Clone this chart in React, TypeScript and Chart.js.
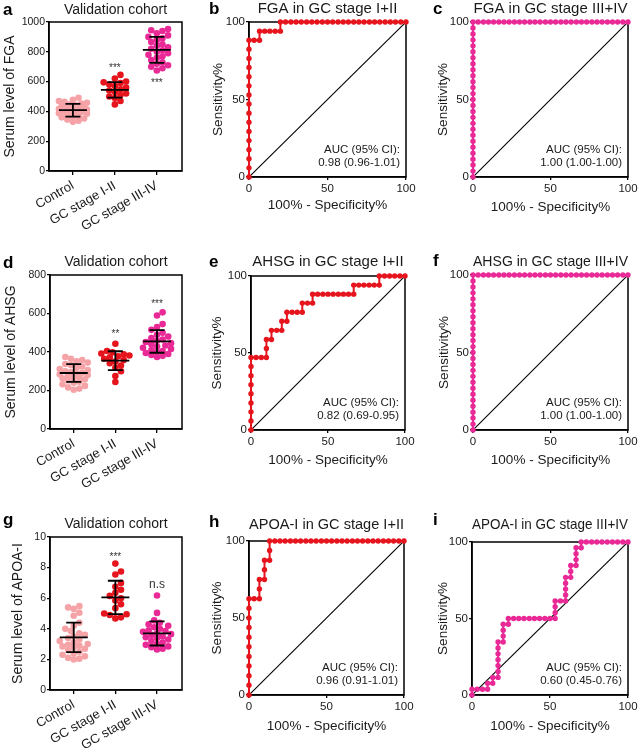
import React, { useEffect, useRef } from "react";
import { Chart, registerables } from "chart.js";

Chart.register(...registerables);

const FONT = "'Liberation Sans', Arial, Helvetica, sans-serif";
const TEXT = "#1a1a1a";
Chart.defaults.font.family = FONT;
Chart.defaults.color = TEXT;

// ---------------- Dot plot data ----------------
const GROUPS = ["Control", "GC stage I-II", "GC stage III-IV"];
const GROUP_COLORS = ["#F5A3A7", "#E5141D", "#E92A96"];

const FGA_CONTROL = [492, 478, 470, 465, 458, 452, 447, 442, 438, 433, 428, 424, 420, 416, 412, 408, 404, 400, 396, 392, 388, 384, 378, 372, 366, 360, 352, 345, 338, 330];
const FGA_STAGE12 = [645, 620, 600, 595, 590, 580, 570, 560, 548, 540, 530, 520, 510, 500, 490, 470, 447];
const FGA_STAGE34 = [953, 945, 940, 925, 910, 900, 890, 880, 865, 850, 840, 830, 820, 810, 800, 790, 780, 770, 760, 745, 730, 720, 710, 700, 690, 674];
const FGA_MEAN = [408, 544, 813];
const FGA_SD = [43, 52, 87];
const FGA_SIG = ["", "***", "***"];

const AHSG_CONTROL = [374, 365, 358, 352, 345, 338, 332, 325, 318, 312, 306, 300, 296, 292, 288, 284, 280, 276, 272, 268, 264, 258, 252, 246, 240, 232, 224, 216, 210, 204];
const AHSG_STAGE12 = [443, 405, 398, 392, 388, 382, 378, 372, 365, 358, 350, 342, 330, 318, 300, 275, 244];
const AHSG_STAGE34 = [606, 590, 545, 530, 515, 500, 490, 480, 472, 465, 458, 452, 446, 440, 434, 428, 422, 416, 410, 405, 400, 395, 390, 385, 380, 374];
const AHSG_MEAN = [291, 355, 455];
const AHSG_SD = [46, 49, 59];
const AHSG_SIG = ["", "**", "***"];

const APOA_CONTROL = [5.48, 5.4, 5.3, 5.05, 4.85, 4.4, 4.2, 4.0, 3.85, 3.7, 3.6, 3.5, 3.4, 3.3, 3.2, 3.1, 3.0, 2.95, 2.9, 2.85, 2.8, 2.7, 2.6, 2.5, 2.4, 2.3, 2.2, 2.1, 2.05, 2.0];
const APOA_STAGE12 = [8.26, 7.75, 7.55, 7.0, 6.75, 6.55, 6.35, 6.15, 6.0, 5.85, 5.6, 5.35, 5.0, 4.95, 4.9, 4.75, 4.68];
const APOA_STAGE34 = [6.18, 5.04, 4.55, 4.4, 4.3, 4.2, 4.1, 4.0, 3.9, 3.85, 3.8, 3.7, 3.65, 3.6, 3.5, 3.45, 3.4, 3.3, 3.2, 3.1, 3.0, 2.95, 2.85, 2.8, 2.7, 2.65];
const APOA_MEAN = [3.44, 6.05, 3.7];
const APOA_SD = [0.96, 1.09, 0.79];
const APOA_SIG = ["", "***", "n.s"];

// ---------------- ROC data: [100% - Specificity%, Sensitivity%] ----------------
const ROC_FGA_12 = [
  [0, 0], [0, 5.9], [0, 11.8], [0, 17.6], [0, 23.5], [0, 29.4], [0, 35.3], [0, 41.2], [0, 47.1], [0, 52.9], [0, 58.8], [0, 64.7], [0, 70.6], [0, 76.5], [0, 82.4], [0, 88.2],
  [3.3, 88.2], [6.7, 88.2], [6.7, 94.1], [10, 94.1], [13.3, 94.1], [16.7, 94.1], [20, 94.1], [20, 100],
  [23.3, 100], [26.7, 100], [30, 100], [33.3, 100], [36.7, 100], [40, 100], [43.3, 100], [46.7, 100], [50, 100], [53.3, 100], [56.7, 100], [60, 100],
  [63.3, 100], [66.7, 100], [70, 100], [73.3, 100], [76.7, 100], [80, 100], [83.3, 100], [86.7, 100], [90, 100], [93.3, 100], [96.7, 100], [100, 100],
];
const ROC_PERFECT_34 = [
  [0, 0], [0, 3.8], [0, 7.7], [0, 11.5], [0, 15.4], [0, 19.2], [0, 23.1], [0, 26.9], [0, 30.8], [0, 34.6], [0, 38.5], [0, 42.3], [0, 46.2], [0, 50],
  [0, 53.8], [0, 57.7], [0, 61.5], [0, 65.4], [0, 69.2], [0, 73.1], [0, 76.9], [0, 80.8], [0, 84.6], [0, 88.5], [0, 92.3], [0, 96.2], [0, 100],
  [3.3, 100], [6.7, 100], [10, 100], [13.3, 100], [16.7, 100], [20, 100], [23.3, 100], [26.7, 100], [30, 100], [33.3, 100], [36.7, 100], [40, 100],
  [43.3, 100], [46.7, 100], [50, 100], [53.3, 100], [56.7, 100], [60, 100], [63.3, 100], [66.7, 100], [70, 100], [73.3, 100], [76.7, 100], [80, 100],
  [83.3, 100], [86.7, 100], [90, 100], [93.3, 100], [96.7, 100], [100, 100],
];
const ROC_AHSG_12 = [
  [0, 0], [0, 5.9], [0, 11.8], [0, 17.6], [0, 23.5], [0, 29.4], [0, 35.3], [0, 41.2], [0, 47.1],
  [3.3, 47.1], [6.7, 47.1], [10, 47.1], [10, 52.9], [10, 58.8], [13.3, 58.8], [13.3, 64.7], [16.7, 64.7], [20, 64.7],
  [20, 70.6], [23.3, 70.6], [23.3, 76.5], [26.7, 76.5], [30, 76.5], [33.3, 76.5], [33.3, 82.4], [36.7, 82.4], [40, 82.4],
  [40, 88.2], [43.3, 88.2], [46.7, 88.2], [50, 88.2], [53.3, 88.2], [56.7, 88.2], [60, 88.2], [63.3, 88.2], [66.7, 88.2],
  [66.7, 94.1], [70, 94.1], [73.3, 94.1], [76.7, 94.1], [80, 94.1], [83.3, 94.1],
  [83.3, 100], [86.7, 100], [90, 100], [93.3, 100], [96.7, 100], [100, 100],
];
const ROC_APOA_12 = [
  [0, 0], [0, 6.3], [0, 12.5], [0, 18.8], [0, 25], [0, 31.3], [0, 37.5], [0, 43.8], [0, 50], [0, 56.3], [0, 62.5],
  [3.3, 62.5], [6.7, 62.5], [6.7, 68.8], [6.7, 75], [10, 75], [10, 81.3], [10, 87.5], [13.3, 87.5], [13.3, 93.8], [13.3, 100],
  [16.7, 100], [20, 100], [23.3, 100], [26.7, 100], [30, 100], [33.3, 100], [36.7, 100], [40, 100], [43.3, 100], [46.7, 100], [50, 100],
  [53.3, 100], [56.7, 100], [60, 100], [63.3, 100], [66.7, 100], [70, 100], [73.3, 100], [76.7, 100], [80, 100], [83.3, 100], [86.7, 100],
  [90, 100], [93.3, 100], [96.7, 100], [100, 100],
];
const ROC_APOA_34 = [
  [0, 0], [0, 3.8], [3.3, 3.8], [6.7, 3.8], [10, 3.8], [10, 7.7], [13.3, 7.7], [13.3, 11.5], [16.7, 11.5], [16.7, 15.4], [16.7, 19.2],
  [16.7, 23.1], [16.7, 26.9], [16.7, 30.8], [16.7, 34.6], [20, 34.6], [20, 38.5], [20, 42.3], [20, 46.2], [23.3, 46.2], [23.3, 50],
  [26.7, 50], [30, 50], [33.3, 50], [36.7, 50], [40, 50], [43.3, 50], [46.7, 50], [50, 50], [53.3, 50], [53.3, 53.8], [53.3, 57.7],
  [53.3, 61.5], [56.7, 61.5], [60, 61.5], [60, 65.4], [60, 69.2], [60, 73.1], [60, 76.9], [63.3, 76.9], [63.3, 80.8], [63.3, 84.6],
  [66.7, 84.6], [66.7, 88.5], [66.7, 92.3], [66.7, 96.2], [70, 96.2], [70, 100], [73.3, 100], [76.7, 100], [80, 100], [83.3, 100],
  [86.7, 100], [90, 100], [93.3, 100], [96.7, 100], [100, 100],
];
const DIAGONAL = [[0, 0], [100, 100]];
const ROC_TICKS = [0, 50, 100];

const RED = "#E5141D";
const MAGENTA = "#E92A96";

// ---------------- Panel layout specs ----------------
type Box = { left: number; top: number; width: number; height: number };
type Area = { l: number; t: number; r: number; b: number };
type Common = {
  box: Box; area: Area;
  letter: string; letterX: number; letterY: number;
  title: string; titleSize: number; titlePad: number;
  yTitle: string; yTitlePad: number;
};
type DotSpec = Common & {
  kind: "dot"; groups: number[][]; means: number[]; sds: number[]; sig: string[]; sigY: number[];
  yMax: number; yStep: number;
};
type RocSpec = Common & {
  kind: "roc"; points: number[][]; color: string; auc: string[]; xTitlePad: number;
};
type Spec = DotSpec | RocSpec;

const SPECS: Spec[] = [
  {
    kind: "dot", box: { left: 0, top: 0, width: 200, height: 250 }, area: { l: 49, t: 22, r: 182, b: 171 },
    letter: "a", letterX: 3, letterY: 15, title: "Validation cohort", titleSize: 14, titlePad: 3,
    yTitle: "Serum level of FGA", yTitlePad: 1.6,
    groups: [FGA_CONTROL, FGA_STAGE12, FGA_STAGE34], means: FGA_MEAN, sds: FGA_SD, sig: FGA_SIG, sigY: [0, 712, 611],
    yMax: 1000, yStep: 200,
  },
  {
    kind: "roc", box: { left: 205, top: 0, width: 220, height: 250 }, area: { l: 44, t: 22, r: 201, b: 177 },
    letter: "b", letterX: 4, letterY: 13.5, title: "FGA in GC stage I+II", titleSize: 15, titlePad: 1.5,
    yTitle: "Sensitivity%", yTitlePad: 4.9, xTitlePad: 37,
    points: ROC_FGA_12, color: RED, auc: ["AUC (95% CI):", "0.98 (0.96-1.01)"],
  },
  {
    kind: "roc", box: { left: 420, top: 0, width: 230, height: 250 }, area: { l: 53, t: 22, r: 208, b: 177 },
    letter: "c", letterX: 13, letterY: 13.5, title: "FGA in GC stage III+IV", titleSize: 15, titlePad: 1.5,
    yTitle: "Sensitivity%", yTitlePad: 14.9, xTitlePad: 35,
    points: ROC_PERFECT_34, color: MAGENTA, auc: ["AUC (95% CI):", "1.00 (1.00-1.00)"],
  },
  {
    kind: "dot", box: { left: 0, top: 250, width: 200, height: 250 }, area: { l: 50, t: 25, r: 182, b: 179 },
    letter: "d", letterX: 3, letterY: 18, title: "Validation cohort", titleSize: 14, titlePad: 5.5,
    yTitle: "Serum level of AHSG", yTitlePad: 2.6,
    groups: [AHSG_CONTROL, AHSG_STAGE12, AHSG_STAGE34], means: AHSG_MEAN, sds: AHSG_SD, sig: AHSG_SIG, sigY: [0, 507, 663],
    yMax: 800, yStep: 200,
  },
  {
    kind: "roc", box: { left: 205, top: 250, width: 220, height: 250 }, area: { l: 46, t: 26, r: 200, b: 180 },
    letter: "e", letterX: 4, letterY: 17, title: "AHSG in GC stage I+II", titleSize: 15, titlePad: 4.5,
    yTitle: "Sensitivity%", yTitlePad: 4.4, xTitlePad: 31.9,
    points: ROC_AHSG_12, color: RED, auc: ["AUC (95% CI):", "0.82 (0.69-0.95)"],
  },
  {
    kind: "roc", box: { left: 420, top: 250, width: 230, height: 250 }, area: { l: 53, t: 25, r: 208, b: 180 },
    letter: "f", letterX: 13, letterY: 15.5, title: "AHSG in GC stage III+IV", titleSize: 15, titlePad: 4.5,
    yTitle: "Sensitivity%", yTitlePad: 15.9, xTitlePad: 31.9,
    points: ROC_PERFECT_34, color: MAGENTA, auc: ["AUC (95% CI):", "1.00 (1.00-1.00)"],
  },
  {
    kind: "dot", box: { left: 0, top: 500, width: 200, height: 250 }, area: { l: 50, t: 37, r: 182, b: 190 },
    letter: "g", letterX: 3, letterY: 25, title: "Validation cohort", titleSize: 14, titlePad: 17,
    yTitle: "Serum level of APOA-I", yTitlePad: 9.6,
    groups: [APOA_CONTROL, APOA_STAGE12, APOA_STAGE34], means: APOA_MEAN, sds: APOA_SD, sig: APOA_SIG, sigY: [0, 8.9, 6.9],
    yMax: 10, yStep: 2,
  },
  {
    kind: "roc", box: { left: 205, top: 500, width: 220, height: 250 }, area: { l: 44, t: 41, r: 199, b: 195 },
    letter: "h", letterX: 4, letterY: 27, title: "APOA-I in GC stage I+II", titleSize: 15, titlePad: 17,
    yTitle: "Sensitivity%", yTitlePad: 4.4, xTitlePad: 15.2,
    points: ROC_APOA_12, color: RED, auc: ["AUC (95% CI):", "0.96 (0.91-1.01)"],
  },
  {
    kind: "roc", box: { left: 420, top: 500, width: 230, height: 250 }, area: { l: 52, t: 42, r: 208, b: 195 },
    letter: "i", letterX: 13, letterY: 25, title: "APOA-I in GC stage III+IV", titleSize: 15, titlePad: 17,
    yTitle: "Sensitivity%", yTitlePad: 14.9, xTitlePad: 15.2,
    points: ROC_APOA_34, color: MAGENTA, auc: ["AUC (95% CI):", "0.60 (0.45-0.76)"],
  },
];

const X_MIN = -0.57;
const X_MAX = 2.6;
const DOT_R = 3.3;
const SWARM_GAP = 5.6; // wanted centre distance between neighbouring dots (px)
const SWARM_MAX = 15; // max half-width of a swarm (px)

// beeswarm layout: returns horizontal offsets (px) so dots barely overlap
function swarm(values: number[], pxPerUnit: number, gap: number): number[] {
  const order = values.map((_, i) => i).sort((a, b) => values[a] - values[b]);
  const placed: { x: number; y: number }[] = [];
  const out = values.map(() => 0);
  const step = gap * 0.5;
  const cands = [0];
  for (let k = 1; k * step <= SWARM_MAX; k++) cands.push(k * step, -k * step);
  for (const i of order) {
    const y = values[i] * pxPerUnit;
    let best = 0;
    let bestD = -1;
    for (const c of cands) {
      const minD = placed.reduce((m, p) => Math.min(m, Math.hypot(p.x - c, p.y - y)), Infinity);
      if (minD >= gap - 0.01) { best = c; bestD = Infinity; break; }
      if (minD > bestD + 0.3) { bestD = minD; best = c; }
    }
    out[i] = best;
    placed.push({ x: best, y });
  }
  return out;
}

function frameAndLetter(spec: Spec) {
  return {
    id: "frameLetter",
    beforeDatasetsDraw(chart: any) {
      const { ctx, chartArea: a } = chart;
      ctx.save();
      ctx.strokeStyle = "#000";
      ctx.lineWidth = 1.5;
      ctx.strokeRect(a.left, a.top, a.right - a.left, a.bottom - a.top);
      ctx.restore();
    },
    afterDraw(chart: any) {
      const { ctx } = chart;
      ctx.save();
      ctx.fillStyle = "#000";
      ctx.font = `bold 17px ${FONT}`;
      ctx.textAlign = "left";
      ctx.textBaseline = "alphabetic";
      ctx.fillText(spec.letter, spec.letterX, spec.letterY);
      ctx.restore();
    },
  };
}

function axisCommon() {
  return {
    grid: { display: true, drawOnChartArea: false, drawTicks: true, tickLength: 3, color: "#000", lineWidth: 1.3 },
    border: { display: true, color: "#000", width: 1.5 },
  };
}

function titleOpts(spec: Spec) {
  return {
    display: true,
    text: spec.title,
    fullSize: false,
    color: TEXT,
    font: { family: FONT, size: spec.titleSize, weight: "normal", lineHeight: 1 },
    padding: { top: spec.titlePad, bottom: spec.area.t - spec.titlePad - spec.titleSize },
  };
}

function buildDot(spec: DotSpec): any {
  const { area, box } = spec;
  const pxPerUnitY = (area.b - area.t) / spec.yMax;
  const pxPerCat = (area.r - area.l) / (X_MAX - X_MIN);
  const datasets = spec.groups.map((vals, g) => {
    const offs = swarm(vals, pxPerUnitY, SWARM_GAP);
    return {
      data: vals.map((v, i) => ({ x: g + offs[i] / pxPerCat, y: v })),
      backgroundColor: GROUP_COLORS[g],
      borderWidth: 0,
      pointRadius: DOT_R,
      pointHoverRadius: DOT_R,
      clip: false,
    };
  });
  const annot = {
    id: "meanSd",
    afterDatasetsDraw(chart: any) {
      const { ctx, scales } = chart;
      const xs = scales.x, ys = scales.y;
      ctx.save();
      ctx.strokeStyle = "#000";
      ctx.lineWidth = 1.8;
      spec.means.forEach((m, g) => {
        const cx = xs.getPixelForValue(g);
        const ym = ys.getPixelForValue(m);
        const yt = ys.getPixelForValue(m + spec.sds[g]);
        const yb = ys.getPixelForValue(m - spec.sds[g]);
        ctx.beginPath();
        ctx.moveTo(cx - 14, ym); ctx.lineTo(cx + 14, ym);
        ctx.moveTo(cx, yt); ctx.lineTo(cx, yb);
        ctx.moveTo(cx - 7.5, yt); ctx.lineTo(cx + 7.5, yt);
        ctx.moveTo(cx - 7.5, yb); ctx.lineTo(cx + 7.5, yb);
        ctx.stroke();
      });
      ctx.fillStyle = "#333";
      ctx.textAlign = "center";
      ctx.textBaseline = "alphabetic";
      spec.sig.forEach((s, g) => {
        if (!s) return;
        const cx = xs.getPixelForValue(g);
        const cy = ys.getPixelForValue(spec.sigY[g]);
        if (s.startsWith("*")) {
          ctx.font = `10px ${FONT}`;
          ctx.fillText(s, cx, cy + 5.7);
        } else {
          ctx.font = `12px ${FONT}`;
          ctx.fillText(s, cx, cy + 3.5);
        }
      });
      ctx.restore();
    },
  };
  return {
    type: "scatter",
    data: { datasets },
    plugins: [frameAndLetter(spec), annot],
    options: {
      animation: false,
      responsive: false,
      events: [],
      layout: { padding: { left: 0, top: 0, right: box.width - area.r, bottom: 0 } },
      plugins: { legend: { display: false }, tooltip: { enabled: false }, title: titleOpts(spec) },
      scales: {
        x: {
          type: "linear", min: X_MIN, max: X_MAX,
          afterFit: (s: any) => { s.height = box.height - area.b; },
          afterBuildTicks: (s: any) => { s.ticks = GROUPS.map((_, i) => ({ value: i })); },
          ...axisCommon(),
          grid: { display: true, drawOnChartArea: false, drawTicks: true, tickLength: 4, color: "#000", lineWidth: 1.3 },
          ticks: {
            autoSkip: false, minRotation: 30, maxRotation: 30, padding: 3, color: TEXT,
            font: { family: FONT, size: 13 },
            callback: (v: any) => GROUPS[v] ?? "",
          },
        },
        y: {
          type: "linear", min: 0, max: spec.yMax,
          afterFit: (s: any) => { s.width = area.l; },
          ...axisCommon(),
          ticks: {
            stepSize: spec.yStep, padding: 1, color: TEXT, font: { family: FONT, size: 10.5 },
            callback: (v: any) => String(v),
          },
          title: {
            display: true, text: spec.yTitle, color: TEXT,
            font: { family: FONT, size: 14, lineHeight: 1.2 }, padding: { top: spec.yTitlePad, bottom: 0 },
          },
        },
      },
    },
  };
}

function buildRoc(spec: RocSpec): any {
  const { area, box } = spec;
  const aucPlugin = {
    id: "auc",
    afterDraw(chart: any) {
      const { ctx, chartArea: a } = chart;
      ctx.save();
      ctx.fillStyle = TEXT;
      ctx.font = `11.5px ${FONT}`;
      ctx.textAlign = "right";
      ctx.textBaseline = "middle";
      ctx.fillText(spec.auc[0], a.right - 6, a.bottom - 27);
      ctx.fillText(spec.auc[1], a.right - 6, a.bottom - 14);
      ctx.restore();
    },
  };
  return {
    type: "scatter",
    data: {
      datasets: [
        {
          data: spec.points.map(([x, y]) => ({ x, y })),
          showLine: true,
          borderColor: spec.color,
          backgroundColor: spec.color,
          borderWidth: 2,
          pointRadius: 2.7,
          pointHoverRadius: 2.7,
          pointBorderWidth: 0,
          tension: 0,
          clip: false,
        },
        {
          data: DIAGONAL.map(([x, y]) => ({ x, y })),
          showLine: true,
          borderColor: "#000",
          borderWidth: 1.1,
          pointRadius: 0,
          tension: 0,
        },
      ],
    },
    plugins: [frameAndLetter(spec), aucPlugin],
    options: {
      animation: false,
      responsive: false,
      events: [],
      layout: { padding: { left: 0, top: 0, right: box.width - area.r, bottom: 0 } },
      plugins: { legend: { display: false }, tooltip: { enabled: false }, title: titleOpts(spec) },
      scales: {
        x: {
          type: "linear", min: 0, max: 100,
          afterFit: (s: any) => { s.height = box.height - area.b; },
          afterBuildTicks: (s: any) => { s.ticks = ROC_TICKS.map((v) => ({ value: v })); },
          ...axisCommon(),
          ticks: { padding: 1.5, color: TEXT, font: { family: FONT, size: 11.5 }, maxRotation: 0 },
          title: {
            display: true, text: "100% - Specificity%", color: TEXT,
            font: { family: FONT, size: 13.5, lineHeight: 1.2 }, padding: { top: 0, bottom: spec.xTitlePad },
          },
        },
        y: {
          type: "linear", min: 0, max: 100,
          afterFit: (s: any) => { s.width = area.l; },
          afterBuildTicks: (s: any) => { s.ticks = ROC_TICKS.map((v) => ({ value: v })); },
          ...axisCommon(),
          ticks: { padding: 1, color: TEXT, font: { family: FONT, size: 11.5 } },
          title: {
            display: true, text: spec.yTitle, color: TEXT,
            font: { family: FONT, size: 13.5, lineHeight: 1.2 }, padding: { top: spec.yTitlePad, bottom: 0 },
          },
        },
      },
    },
  };
}

function Panel({ spec }: { spec: Spec }) {
  const ref = useRef<HTMLCanvasElement>(null);
  useEffect(() => {
    if (!ref.current) return;
    const cfg = spec.kind === "dot" ? buildDot(spec) : buildRoc(spec);
    const chart = new Chart(ref.current, cfg);
    return () => chart.destroy();
  }, [spec]);
  const { box } = spec;
  return (
    <canvas
      ref={ref}
      width={box.width}
      height={box.height}
      style={{ position: "absolute", left: box.left, top: box.top, width: box.width, height: box.height }}
    />
  );
}

export default function App() {
  return (
    <div style={{ position: "absolute", left: 0, top: 0, width: 638, height: 750, overflow: "hidden", background: "#fff" }}>
      {SPECS.map((s) => (
        <Panel key={s.letter} spec={s} />
      ))}
    </div>
  );
}
